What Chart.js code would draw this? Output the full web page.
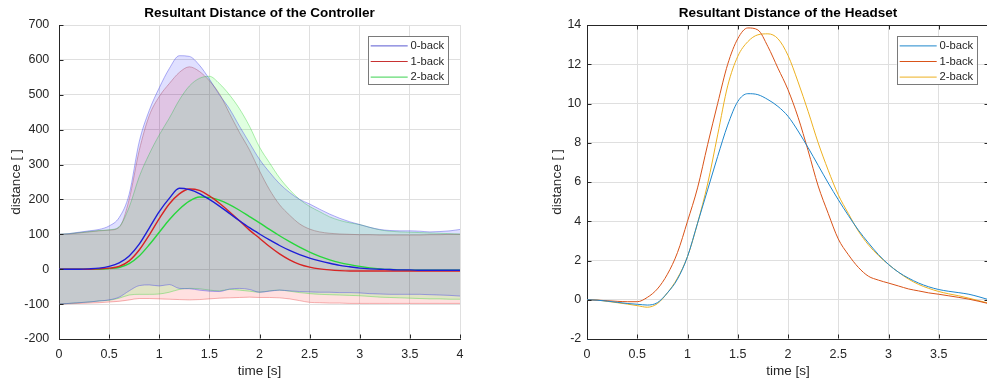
<!DOCTYPE html>
<html><head><meta charset="utf-8">
<script src="https://cdn.jsdelivr.net/npm/chart.js@4.4.1/dist/chart.umd.min.js"></script>
<style>
html,body{margin:0;padding:0;overflow:hidden;background:#fff;width:987px;height:383px;}
#c1{position:absolute;left:0;top:0;}
#c2{position:absolute;left:494px;top:0;}
</style></head><body>
<canvas id="c1" width="494" height="383"></canvas>
<canvas id="c2" width="520" height="383"></canvas>
<script>
// ---------- shared ----------
const time = [0,0.1,0.2,0.3,0.4,0.5,0.6,0.7,0.8,0.9,1.0,1.1,1.2,1.3,1.4,1.5,1.6,1.7,1.8,1.9,2.0,
  2.1,2.2,2.3,2.4,2.5,2.6,2.7,2.8,2.9,3.0,3.1,3.2,3.3,3.4,3.5,3.6,3.7,3.8,3.9,4.0];
const seriesNames = ['0-back','1-back','2-back'];
const xTicks = [0,0.5,1,1.5,2,2.5,3,3.5,4];
const xTickLabels = ['0','0.5','1','1.5','2','2.5','3','3.5','4'];
const ctrlYTicks = [-200,-100,0,100,200,300,400,500,600,700];
const headYTicks = [-2,0,2,4,6,8,10,12,14];

// ---------- Controller (left) ----------
const ctrlMean0 = [0,0,0,1,3,8,18,38,72,118,165,203,232,228,217,200,181,160,139,119,101,
  84,68,54,42,32,24,17,11,7,3,1,0,-1,-2,-2,-3,-3,-3,-3,-3];
const ctrlMean1 = [0,0,0,0,1,3,8,24,55,98,145,187,216,230,226,210,189,165,139,112,89,
  65,44,27,14,6,1,-2,-4,-5,-5,-5,-5,-5,-5,-5,-5,-5,-5,-5,-5];
const ctrlMean2 = [0,0,0,0,0,2,5,16,38,70,106,142,172,195,207,206,198,185,169,151,133,
  114,96,79,63,49,37,27,19,13,8,4,1,-1,-2,-3,-3,-3,-3,-3,-3];

const ctrlUpper0 = [100,102,106,110,114,124,148,215,365,455,520,575,612,610,585,545,500,460,410,362,315,
  278,245,220,200,187,172,158,146,136,128,120,114,111,110,110,109,107,108,110,114];
const ctrlUpper1 = [100,101,104,107,110,112,120,200,340,440,495,532,564,580,567,540,503,447,392,342,282,
  228,185,155,130,115,107,103,101,100,99,99,98,98,98,98,98,99,99,100,100];
const ctrlUpper2 = [100,102,105,108,111,113,122,178,265,330,385,433,485,525,547,553,532,500,460,410,350,
  305,262,228,200,180,165,150,140,133,128,120,113,109,107,106,105,104,103,102,101];

const ctrlLower0 = [-100,-98,-96,-94,-91,-88,-80,-62,-47,-45,-48,-44,-55,-56,-60,-63,-64,-57,-55,-58,-66,
  -63,-60,-62,-64,-65,-66,-66,-67,-67,-68,-70,-71,-72,-72,-72,-72,-73,-74,-75,-77];
const ctrlLower1 = [-100,-99,-98,-97,-96,-94,-92,-88,-84,-84,-85,-86,-87,-88,-87,-85,-83,-82,-81,-80,-81,
  -81,-82,-85,-90,-95,-96,-97,-97,-98,-98,-98,-98,-98,-98,-98,-98,-98,-98,-98,-98];
const ctrlLower2 = [-100,-98,-96,-94,-91,-89,-83,-74,-72,-72,-71,-66,-58,-55,-56,-60,-62,-58,-60,-63,-66,
  -62,-60,-63,-67,-70,-72,-73,-74,-75,-76,-78,-80,-81,-82,-83,-84,-85,-85,-86,-86];

// ---------- Headset (right) ----------
const head0 = [0,-0.02,-0.07,-0.13,-0.19,-0.23,-0.27,-0.15,0.35,1.05,2.2,3.9,5.6,7.3,8.9,10.1,10.5,10.45,10.2,9.85,9.35,
  8.6,7.75,6.85,5.95,5.1,4.3,3.55,2.9,2.3,1.8,1.4,1.1,0.85,0.66,0.52,0.43,0.36,0.28,0.15,0.0];
const head1 = [0,-0.02,-0.05,-0.08,-0.1,-0.1,0.12,0.55,1.3,2.4,4.0,5.7,7.9,10.0,12.0,13.3,13.85,13.75,12.9,11.8,10.7,
  9.3,7.6,5.8,4.4,3.1,2.3,1.65,1.2,1.0,0.85,0.7,0.55,0.45,0.35,0.28,0.2,0.12,0.03,-0.08,-0.2];
const head2 = [0,-0.02,-0.08,-0.15,-0.22,-0.3,-0.38,-0.2,0.35,1.1,2.2,3.9,5.9,8.4,10.9,12.4,13.15,13.5,13.55,13.3,12.45,
  11.1,9.6,8.0,6.6,5.35,4.4,3.5,2.8,2.25,1.8,1.4,1.05,0.78,0.58,0.42,0.3,0.2,0.08,-0.05,-0.18];

// ---------- helpers ----------
const FONT = "'Liberation Sans', Arial, Helvetica, sans-serif";
const AX = '#262626', GRID = '#dfdfdf';
const pts = arr => time.map((t,i)=>({x:t, y:arr[i]}));

const decor = {
  id:'decor',
  afterDraw(chart, args, o){
    const ctx = chart.ctx, a = chart.chartArea, xs = chart.scales.x, ys = chart.scales.y;
    ctx.save();
    ctx.strokeStyle = AX; ctx.lineWidth = 1;
    const L = Math.round(a.left)+0.5, R = Math.round(a.right)-0.5, T = Math.round(a.top)+0.5, B = Math.round(a.bottom)-0.5;
    ctx.beginPath();
    o.xt.forEach(v=>{ const p = Math.round(xs.getPixelForValue(v))+0.5;
      ctx.moveTo(p,B); ctx.lineTo(p,B-4);
      if(o.box){ ctx.moveTo(p,T); ctx.lineTo(p,T+4); } });
    o.yt.forEach(v=>{ const p = Math.round(ys.getPixelForValue(v))+0.5;
      ctx.moveTo(L,p); ctx.lineTo(L+4,p);
      if(o.box){ ctx.moveTo(R,p); ctx.lineTo(R-4,p); } });
    if(o.box){ ctx.moveTo(L,T); ctx.lineTo(R,T); ctx.lineTo(R,B); }
    ctx.stroke();
    // legend
    const bw = 80, bh = 48.4;
    const bx = a.right - 12.3 - bw, by = a.top + 11.3;
    ctx.fillStyle = '#fff'; ctx.fillRect(bx,by,bw,bh);
    ctx.strokeStyle = '#7a7a7a'; ctx.lineWidth = 1;
    ctx.strokeRect(Math.round(bx)+0.5, Math.round(by)+0.5, Math.round(bw), Math.round(bh));
    ctx.font = '11.25px ' + FONT; ctx.textBaseline = 'middle'; ctx.textAlign = 'left';
    o.items.forEach((it,i)=>{
      const yy = by + 9.6 + i*15.6;
      ctx.strokeStyle = it.color; ctx.lineWidth = it.w;
      ctx.beginPath(); ctx.moveTo(bx+3, yy); ctx.lineTo(bx+40, yy); ctx.stroke();
      ctx.fillStyle = AX; ctx.fillText(it.label, bx+42.7, yy);
    });
    ctx.restore();
  }
};

function makeOptions(cfg){
  return {
    responsive:false, animation:false, devicePixelRatio:1,
    layout:{padding:{left:0,right:cfg.padRight,top:2,bottom:0}},
    elements:{point:{radius:0}, line:{cubicInterpolationMode:'monotone'}},
    plugins:{
      legend:{display:false}, tooltip:{enabled:false},
      title:{display:true, text:cfg.title, fullSize:false, color:'#000',
        font:{family:FONT, size:13.5, weight:'bold'}, padding:{top:3.6,bottom:3.2}},
      decor:{xt:xTicks, yt:cfg.yt, box:cfg.box, items:cfg.items}
    },
    scales:{
      x:{type:'linear', min:0, max:4,
        afterFit:s=>{s.height=44;},
        afterBuildTicks:s=>{s.ticks = xTicks.map(v=>({value:v}));},
        grid:{color:GRID, drawTicks:false},
        border:{display:true, color:AX, width:1},
        ticks:{color:AX, padding:7.7, font:{family:FONT,size:12.5}, maxRotation:0, autoSkip:false,
          callback:(v,i)=> (cfg.hideLastX && i===xTicks.length-1) ? '' : xTickLabels[i]},
        title:{display:true, text:'time [s]', color:AX, font:{family:FONT,size:13.5}, padding:{top:0,bottom:3.9}}
      },
      y:{type:'linear', min:cfg.yt[0], max:cfg.yt[cfg.yt.length-1],
        afterFit:s=>{s.width=cfg.yw;},
        afterBuildTicks:s=>{s.ticks = cfg.yt.map(v=>({value:v}));},
        grid:{color:GRID, drawTicks:false},
        border:{display:true, color:AX, width:1},
        ticks:{color:AX, padding:cfg.ypad, font:{family:FONT,size:12.5}, autoSkip:false,
          callback:v=>String(v)},
        title:{display:true, text:'distance [ ]', color:AX, font:{family:FONT,size:13.5}, padding:{top:cfg.ytp,bottom:0}}
      }
    }
  };
}

// ---------- left chart ----------
const cBlue = 'rgb(30,30,215)', cRed = 'rgb(215,35,35)', cGreen = 'rgb(40,215,60)';
const band = (arr, edge, fillCol, order, fill) => ({
  label:'_band', data:pts(arr), borderColor:edge, borderWidth:1, order:order,
  fill: fill ? '-1' : false, backgroundColor: fillCol
});
new Chart(document.getElementById('c1'), {
  type:'line',
  data:{datasets:[
    band(ctrlLower1,'rgba(230,90,90,0.45)','rgba(255,0,0,0.12)',9,false),
    band(ctrlUpper1,'rgba(200,110,110,0.5)','rgba(255,0,0,0.12)',8,true),
    band(ctrlLower2,'rgba(60,210,60,0.4)','rgba(0,255,0,0.12)',7,false),
    band(ctrlUpper2,'rgba(60,210,60,0.4)','rgba(0,255,0,0.12)',6,true),
    band(ctrlLower0,'rgba(80,80,230,0.45)','rgba(0,0,255,0.12)',5,false),
    band(ctrlUpper0,'rgba(80,80,230,0.45)','rgba(0,0,255,0.12)',4,true),
    {label:seriesNames[2], data:pts(ctrlMean2), borderColor:cGreen, borderWidth:1.4, fill:false, order:3},
    {label:seriesNames[1], data:pts(ctrlMean1), borderColor:cRed, borderWidth:1.4, fill:false, order:2},
    {label:seriesNames[0], data:pts(ctrlMean0), borderColor:cBlue, borderWidth:1.4, fill:false, order:1}
  ]},
  options:makeOptions({title:'Resultant Distance of the Controller', padRight:34, yw:59, ypad:9.7, ytp:8.6,
    yt:ctrlYTicks, box:false, hideLastX:false,
    items:[{label:seriesNames[0],color:'rgb(90,90,210)',w:1},{label:seriesNames[1],color:'rgb(200,50,50)',w:1},{label:seriesNames[2],color:'rgb(60,210,80)',w:1}]}),
  plugins:[decor]
});

// ---------- right chart ----------
const h0 = 'rgb(30,135,205)', h1 = '#D95319', h2 = '#EDB120';
new Chart(document.getElementById('c2'), {
  type:'line',
  data:{datasets:[
    {label:seriesNames[2], data:pts(head2), borderColor:h2, borderWidth:1, fill:false, order:3},
    {label:seriesNames[1], data:pts(head1), borderColor:h1, borderWidth:1, fill:false, order:2},
    {label:seriesNames[0], data:pts(head0), borderColor:h0, borderWidth:1, fill:false, order:1}
  ]},
  options:makeOptions({title:'Resultant Distance of the Headset', padRight:25, yw:93, ypad:5.7, ytp:55.2,
    yt:headYTicks, box:true, hideLastX:true,
    items:[{label:seriesNames[0],color:h0,w:1},{label:seriesNames[1],color:h1,w:1},{label:seriesNames[2],color:h2,w:1}]}),
  plugins:[decor]
});
</script>
</body></html>
